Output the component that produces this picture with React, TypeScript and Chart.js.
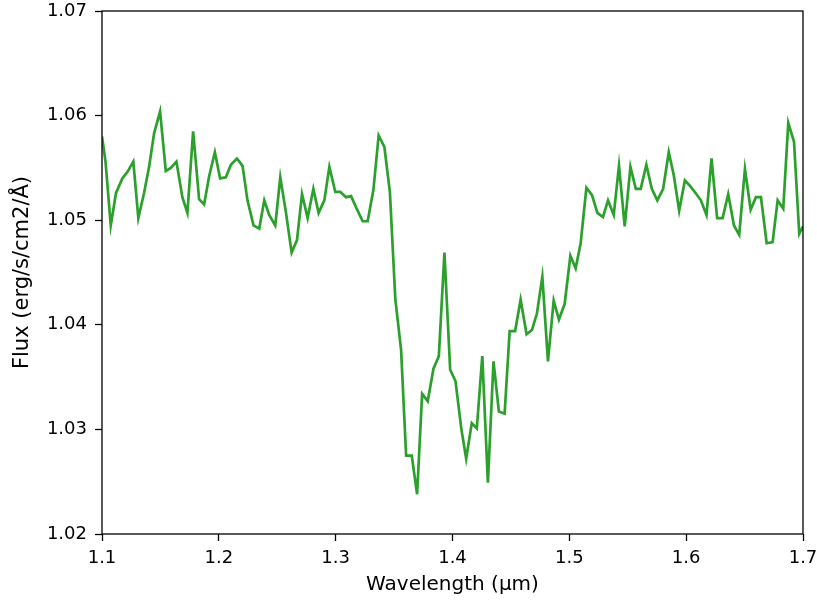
import React, { useEffect, useRef } from "react";
import { Chart, registerables } from "chart.js";

Chart.register(...registerables);

const wavelength: number[] = [
  1.1, 1.103, 1.1075, 1.112, 1.1174, 1.1217, 1.1268, 1.1311, 1.136, 1.1403,
  1.1446, 1.1497, 1.1546, 1.1589, 1.1637, 1.1688, 1.1731, 1.178, 1.1831, 1.1874,
  1.1917, 1.1966, 1.2011, 1.206, 1.2103, 1.2155, 1.2203, 1.2245, 1.2297, 1.2346,
  1.2389, 1.2431, 1.2483, 1.2526, 1.2575, 1.2623, 1.2669, 1.2712, 1.276, 1.2809,
  1.2854, 1.2903, 1.2946, 1.2997, 1.304, 1.3089, 1.3132, 1.318, 1.3231, 1.3274,
  1.3323, 1.3368, 1.3417, 1.3464, 1.3511, 1.356, 1.3603, 1.3651, 1.3697, 1.374,
  1.3788, 1.3837, 1.3883, 1.3931, 1.398, 1.4026, 1.4075, 1.4117, 1.4165, 1.4208,
  1.4255, 1.4303, 1.4351, 1.4397, 1.4446, 1.4489, 1.4536, 1.4583, 1.4634, 1.468,
  1.4723, 1.4769, 1.4817, 1.4866, 1.4911, 1.496, 1.5009, 1.5054, 1.5097, 1.5146,
  1.5194, 1.524, 1.5288, 1.5331, 1.538, 1.5425, 1.5474, 1.5523, 1.5569, 1.5611,
  1.5659, 1.5706, 1.5753, 1.5803, 1.5851, 1.5894, 1.594, 1.5989, 1.6031, 1.608,
  1.6126, 1.6174, 1.6217, 1.6265, 1.6312, 1.636, 1.6409, 1.6454, 1.6503, 1.6552,
  1.6597, 1.664, 1.6689, 1.674, 1.6783, 1.6831, 1.6874, 1.6923, 1.6968, 1.7,
];

const flux: number[] = [
  1.058, 1.0556, 1.0495, 1.0526, 1.054, 1.0546, 1.0556, 1.0502, 1.0526, 1.0551,
  1.0583, 1.0604, 1.0547, 1.055, 1.0556, 1.0522, 1.0507, 1.0585, 1.052, 1.0515,
  1.0542, 1.0565, 1.054, 1.0541, 1.0553, 1.0559, 1.0552, 1.0519, 1.0495, 1.0492,
  1.0519, 1.0505, 1.0495, 1.0541, 1.0507, 1.0469, 1.0481, 1.0525, 1.0502, 1.053,
  1.0507, 1.0519, 1.0551, 1.0527, 1.0527, 1.0522, 1.0523, 1.0511, 1.0499, 1.0499,
  1.0529, 1.0581, 1.057, 1.0527, 1.0424, 1.0376, 1.0275, 1.0275, 1.0238, 1.0334,
  1.0327, 1.0358, 1.037, 1.0469, 1.0357, 1.0346, 1.0301, 1.0272, 1.0306, 1.0301,
  1.037, 1.0249, 1.0365, 1.0317, 1.0315, 1.0394, 1.0394, 1.0424, 1.0391, 1.0395,
  1.0411, 1.0446, 1.0365, 1.0423, 1.0405, 1.042, 1.0466, 1.0454, 1.0478, 1.0531,
  1.0524, 1.0507, 1.0503, 1.0519, 1.0505, 1.0552, 1.0494, 1.0551, 1.053, 1.053,
  1.0553, 1.053, 1.0519, 1.053, 1.0565, 1.0543, 1.0509, 1.0538, 1.0533, 1.0526,
  1.0519, 1.0505, 1.0559, 1.0502, 1.0502, 1.0525, 1.0495, 1.0486, 1.0549, 1.051,
  1.0522, 1.0522, 1.0478, 1.0479, 1.0519, 1.0511, 1.0593, 1.0575, 1.0487, 1.0494,
];

const xTickValues: number[] = [1.1, 1.2, 1.3, 1.4, 1.5, 1.6, 1.7];
const yTickValues: number[] = [1.02, 1.03, 1.04, 1.05, 1.06, 1.07];
const xTitle = "Wavelength (μm)";
const yTitle = "Flux (erg/s/cm2/Å)";

const FONT = "'DejaVu Sans', sans-serif";

const frame = {
  id: "frameBox",
  afterDatasetsDraw(chart: any) {
    const { ctx, chartArea } = chart;
    ctx.save();
    ctx.strokeStyle = "#000";
    ctx.lineWidth = 1.3;
    ctx.strokeRect(
      chartArea.left,
      chartArea.top,
      chartArea.right - chartArea.left,
      chartArea.bottom - chartArea.top
    );
    ctx.restore();
  },
};

export default function App() {
  const ref = useRef<HTMLCanvasElement | null>(null);

  useEffect(() => {
    if (!ref.current) return;
    const points = wavelength.map((w, i) => ({ x: w, y: flux[i] }));
    const chart = new Chart(ref.current, {
      type: "line",
      data: {
        datasets: [
          {
            data: points,
            borderColor: "#2ca02c",
            backgroundColor: "#2ca02c",
            borderWidth: 2.7,
            pointRadius: 0,
            tension: 0,
            fill: false,
          },
        ],
      },
      options: {
        animation: false,
        responsive: false,
        maintainAspectRatio: false,
        layout: { padding: { top: 11, right: 14, left: 0, bottom: 0 } },
        plugins: {
          legend: { display: false },
          tooltip: { enabled: false },
        },
        scales: {
          x: {
            type: "linear",
            min: 1.1,
            max: 1.7,
            afterBuildTicks: (scale: any) => {
              scale.ticks = xTickValues.map((v) => ({ value: v }));
            },
            afterFit: (scale: any) => {
              scale.height = 69;
              scale.paddingLeft = 0;
              scale.paddingRight = 0;
            },
            ticks: {
              color: "#000",
              font: { family: FONT, size: 18 },
              padding: 7,
              maxRotation: 0,
              callback: (v: any) => Number(v).toFixed(1),
            },
            grid: {
              drawOnChartArea: false,
              drawTicks: true,
              tickLength: 7,
              tickColor: "#000",
              tickWidth: 1.3,
            },
            border: { display: false },
            title: {
              display: true,
              text: xTitle,
              color: "#000",
              font: { family: FONT, size: 20 },
              padding: { top: 0, bottom: 6 },
            },
          },
          y: {
            type: "linear",
            min: 1.02,
            max: 1.07,
            afterBuildTicks: (scale: any) => {
              scale.ticks = yTickValues.map((v) => ({ value: v }));
            },
            afterFit: (scale: any) => {
              scale.width = 102;
              scale.paddingTop = 0;
              scale.paddingBottom = 0;
            },
            ticks: {
              color: "#000",
              font: { family: FONT, size: 18 },
              padding: 8,
              callback: (v: any) => Number(v).toFixed(2),
            },
            grid: {
              drawOnChartArea: false,
              drawTicks: true,
              tickLength: 7,
              tickColor: "#000",
              tickWidth: 1.3,
            },
            border: { display: false },
            title: {
              display: true,
              text: yTitle,
              color: "#000",
              font: { family: FONT, size: 21 },
              padding: { top: 10, bottom: 0 },
            },
          },
        },
      },
      plugins: [frame],
    });
    return () => chart.destroy();
  }, []);

  return (
    <div style={{ position: "absolute", left: 0, top: 0, width: 817, height: 603, background: "#fff" }}>
      <canvas ref={ref} width={817} height={603} style={{ width: 817, height: 603 }} />
    </div>
  );
}
